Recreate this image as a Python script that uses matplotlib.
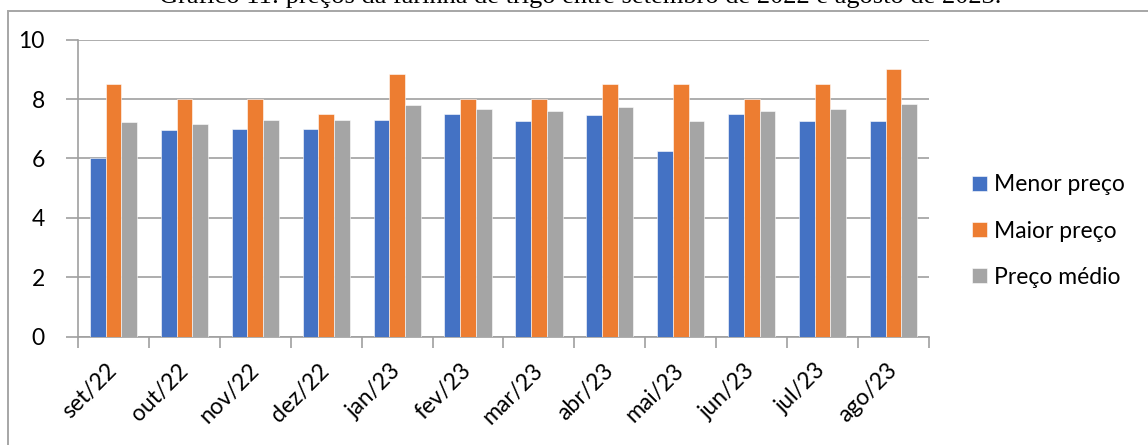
import matplotlib
matplotlib.use("Agg")
import matplotlib.pyplot as plt
import numpy as np
from matplotlib.patches import Rectangle

months = ["set/22", "out/22", "nov/22", "dez/22", "jan/23", "fev/23",
          "mar/23", "abr/23", "mai/23", "jun/23", "jul/23", "ago/23"]
menor_preco = [6.00, 6.95, 7.00, 7.00, 7.30, 7.50, 7.25, 7.45, 6.24, 7.50, 7.25, 7.25]
maior_preco = [8.50, 8.00, 8.00, 7.50, 8.86, 8.00, 8.00, 8.50, 8.50, 8.00, 8.50, 9.00]
preco_medio = [7.23, 7.16, 7.30, 7.30, 7.79, 7.67, 7.60, 7.73, 7.25, 7.61, 7.68, 7.82]

series = [("Menor preço", menor_preco, "#4472C4"),
          ("Maior preço", maior_preco, "#ED7D31"),
          ("Preço médio", preco_medio, "#A5A5A5")]

title = "Gráfico 11: preços da farinha de trigo entre setembro de 2022 e agosto de 2023."

W, H = 1148, 445
fig = plt.figure(figsize=(W / 100, H / 100), dpi=100)
font = "Lato"
fsize = 16.5
grid_col = "#A0A0A0"

ax = fig.add_axes([78 / W, 1 - 336.7 / H, (929 - 78) / W, (336.7 - 39.7) / H])

x = np.arange(len(months)) + 0.5
bw = 0.222
for i, (name, vals, col) in enumerate(series):
    ax.bar(x + (i - 1) * bw, vals, width=bw, color=col, label=name,
           edgecolor="white", linewidth=0.4, zorder=3)

ax.set_xlim(0, len(months))
ax.set_ylim(0, 10)
ax.set_yticks([0, 2, 4, 6, 8, 10])
ax.set_yticklabels(["0", "2", "4", "6", "8", "10"], fontsize=fsize, family=font)
ax.yaxis.grid(True, color=grid_col, linewidth=1.2, zorder=0)
ax.tick_params(axis="y", length=9, width=1.2, color=grid_col, pad=15)

ax.set_xticks(np.arange(len(months) + 1))
ax.set_xticklabels([])
ax.set_xticks(x, minor=True)
ax.set_xticklabels(months, minor=True, rotation=45, ha="right", va="center",
                   rotation_mode="anchor", fontsize=fsize, family=font)
ax.tick_params(axis="x", which="major", length=8, width=1.2, color=grid_col)
ax.tick_params(axis="x", which="minor", length=0, pad=22)

for s in ["top", "right"]:
    ax.spines[s].set_visible(False)
for s in ["left", "bottom"]:
    ax.spines[s].set_color(grid_col)
    ax.spines[s].set_linewidth(1.2)

leg = fig.legend(loc="center left", bbox_to_anchor=(972 / W, 1 - 231 / H),
                 frameon=False, prop={"family": font, "size": fsize},
                 handlelength=0.66, handleheight=0.66, handletextpad=0.3,
                 labelspacing=1.1, borderpad=0, borderaxespad=0)

# chart frame
fig.patches.append(Rectangle((8 / W, -0.2), 1.2, 1.2 - 11 / H,
                             transform=fig.transFigure, fill=False,
                             edgecolor="#A6A6A6", linewidth=1.4))

fig.text(580.5 / W, 1 - 2.5 / H, title, ha="center", va="baseline",
         fontsize=19, family="Liberation Serif")

fig.savefig("out.png", dpi=100)
